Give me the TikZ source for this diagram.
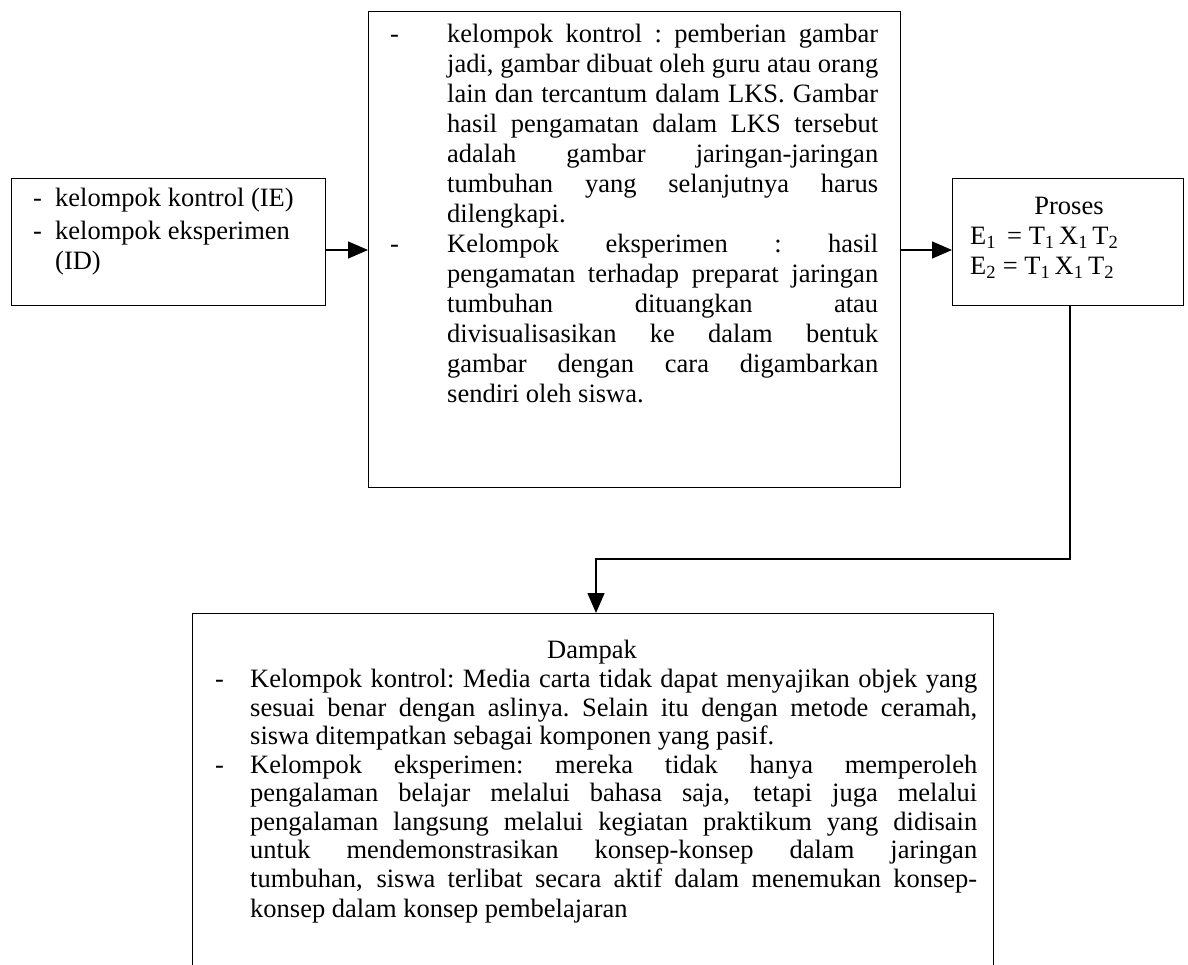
\documentclass[tikz,border=0pt]{standalone}
\usepackage{fontspec}
\setmainfont{Liberation Serif}
\usetikzlibrary{arrows.meta}
\newcommand{\JL}[2]{\leavevmode\hbox to #1{\spaceskip=0.25em plus 1fil minus 0.06em\xspaceskip=0.25em plus 1fil minus 0.06em\relax #2}}
\newcommand{\dashmark}[1]{\leavevmode\llap{\makebox[#1][l]{-}}}
\newcommand{\normsp}{\spaceskip=0.25em plus 0.1em minus 0.05em\xspaceskip=0.25em plus 0.1em minus 0.05em\relax}
\newcommand{\txt}{\fontsize{26.5pt}{30pt}\selectfont}
\begin{document}
\begin{tikzpicture}[x=1pt,y=-1pt,
  boxst/.style={draw, line width=1.4pt, rectangle, inner sep=0pt, anchor=north west},
  textst/.style={inner sep=0pt, font=\txt, align=left},
  arr/.style={line width=1.4pt, -{Triangle[length=20pt,width=17pt]}}]
\useasboundingbox (0,0) rectangle (1188,964);
\clip (0,0) rectangle (1188,964);
% boxes
\node[boxst, minimum width=314pt, minimum height=127pt] (lbox) at (11,178) {};
\node[boxst, minimum width=532pt, minimum height=476pt] (mbox) at (368,11) {};
\node[boxst, minimum width=231pt, minimum height=127pt] (pbox) at (952,178) {};
\node[boxst, minimum width=801pt, minimum height=420pt] (bbox) at (192,613) {};
% texts
\node[textst, anchor=north west, text width=260pt] (ltext) at (55,188)
 {\normsp\fontsize{26.5pt}{33pt}\selectfont
  \dashmark{22pt}kelompok kontrol (IE)\\
  \dashmark{22pt}kelompok eksperimen\\
  (ID)};
\node[textst, anchor=north west, text width=431pt] (mtext) at (447,24)
 {\normsp\dashmark{57pt}\JL{431pt}{kelompok kontrol : pemberian gambar}\\
  \JL{431pt}{jadi, gambar dibuat oleh guru atau orang}\\
  \JL{431pt}{lain dan tercantum dalam LKS. Gambar}\\
  \JL{431pt}{hasil pengamatan dalam LKS tersebut}\\
  \JL{431pt}{adalah gambar jaringan-jaringan}\\
  \JL{431pt}{tumbuhan yang selanjutnya harus}\\
  dilengkapi.\\
  \dashmark{57pt}\JL{431pt}{Kelompok eksperimen : hasil}\\
  \JL{431pt}{pengamatan terhadap preparat jaringan}\\
  \JL{431pt}{tumbuhan dituangkan atau}\\
  \JL{431pt}{divisualisasikan ke dalam bentuk}\\
  \JL{431pt}{gambar dengan cara digambarkan}\\
  sendiri oleh siswa.};
\node[textst, anchor=north] (ptitle) at (1069,197) {\normsp Proses};
\node[textst, anchor=north west] (peq) at (970,227)
 {\normsp\fontsize{26.5pt}{27pt}\selectfont
  E\textsubscript{1}\, = T\textsubscript{1}\,X\textsubscript{1}\,T\textsubscript{2}\\
  E\textsubscript{2} = T\textsubscript{1}\,X\textsubscript{1}\,T\textsubscript{2}};
\node[textst, anchor=north] (btitle) at (592,640) {\normsp Dampak};
\node[textst, anchor=north west, text width=727pt] (btext) at (250,669)
 {\normsp\fontsize{26.5pt}{28.5pt}\selectfont
  \dashmark{35pt}\JL{727pt}{Kelompok kontrol: Media carta tidak dapat menyajikan objek yang}\\
  \JL{727pt}{sesuai benar dengan aslinya. Selain itu dengan metode ceramah,}\\
  siswa ditempatkan sebagai komponen yang pasif.\\
  \dashmark{35pt}\JL{727pt}{Kelompok eksperimen: mereka tidak hanya memperoleh}\\
  \JL{727pt}{pengalaman belajar melalui bahasa saja, tetapi juga melalui}\\
  \JL{727pt}{pengalaman langsung melalui kegiatan praktikum yang didisain}\\
  \JL{727pt}{untuk mendemonstrasikan konsep-konsep dalam jaringan}\\
  \JL{727pt}{tumbuhan, siswa terlibat secara aktif dalam menemukan konsep-}\\
  konsep dalam konsep pembelajaran};
% connectors
\coordinate (arow) at (0,250);
\coordinate (ctop) at (1070,0);
\coordinate (elbow) at (596,559);
\draw[arr] (lbox.east |- arow) -- (mbox.west |- arow);
\draw[arr] (mbox.east |- arow) -- (pbox.west |- arow);
\draw[arr] (pbox.south -| ctop) |- (elbow) -- (elbow |- bbox.north);
\end{tikzpicture}
\end{document}
